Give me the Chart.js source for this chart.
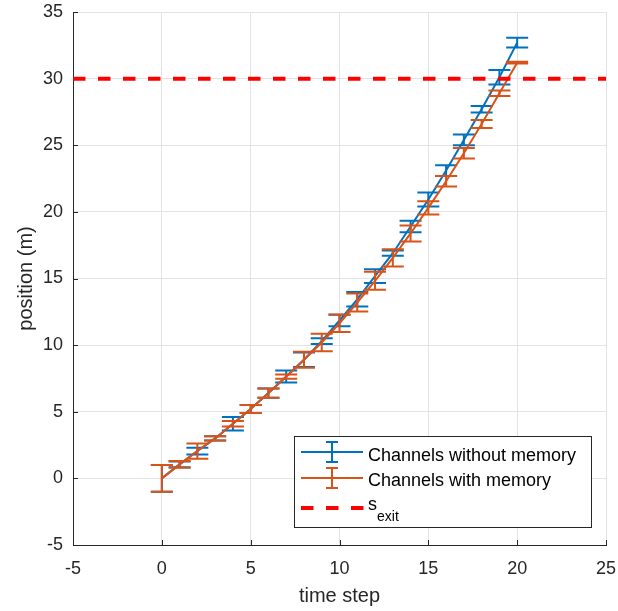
<!DOCTYPE html>
<html>
<head>
<meta charset="utf-8">
<script src="https://cdn.jsdelivr.net/npm/chart.js@4.4.1/dist/chart.umd.min.js"></script>
<style>
  html, body { margin: 0; padding: 0; background: #ffffff; }
  #wrap { width: 618px; height: 611px; position: relative; }
</style>
</head>
<body>
<div id="wrap"><canvas id="chart" width="618" height="611"></canvas></div>
<script>
// Time steps and mean position (m) with error half-widths for each channel model
const timeSteps = [0, 1, 2, 3, 4, 5, 6, 7, 8, 9, 10, 11, 12, 13, 14, 15, 16, 17, 18, 19, 20];
const noMemoryMean = [0, 1.05, 2.05, 3.0, 4.1, 5.2, 6.4, 7.65, 8.9, 10.3, 11.85, 13.44, 15.18, 16.9, 18.9, 20.93, 23.1, 25.4, 27.7, 30.1, 32.7];
const noMemoryErr  = [1, 0.22, 0.25, 0.16, 0.5, 0.3, 0.35, 0.45, 0.55, 0.22, 0.43, 0.54, 0.52, 0.2, 0.43, 0.53, 0.4, 0.4, 0.25, 0.55, 0.37];
const memoryMean   = [0, 1.05, 2.05, 3.0, 4.1, 5.2, 6.4, 7.63, 8.9, 10.2, 11.64, 13.2, 14.83, 16.55, 18.38, 20.3, 22.3, 24.4, 26.6, 28.9, 31.2];
const memoryErr    = [1, 0.25, 0.57, 0.16, 0.2, 0.3, 0.35, 0.16, 0.6, 0.66, 0.65, 0.68, 0.67, 0.65, 0.6, 0.5, 0.4, 0.4, 0.3, 0.2, 0.07];
const exitPosition = 30;
const xRange = [-5, 25];
const yRange = [-5, 35];
const seriesLabels = ['Channels without memory', 'Channels with memory'];

const BLUE = '#0072BD';
const ORANGE = '#D95319';
const RED = '#FF0000';
const TEXT = '#262626';
const FONT = '"Liberation Sans", Arial, Helvetica, sans-serif';

const toPoints = (xs, ys) => xs.map((x, i) => ({ x: x, y: ys[i] }));

// Vertical error bars with caps, drawn right after their own dataset
const errorBars = {
  id: 'errorBars',
  afterDatasetDraw(chart, args) {
    const ds = chart.data.datasets[args.index];
    if (!ds.errors) return;
    const { ctx, scales: { x, y } } = chart;
    const capHalf = 11;
    ctx.save();
    ctx.strokeStyle = ds.borderColor;
    ctx.lineWidth = 2;
    ds.data.forEach((p, i) => {
      const e = ds.errors[i];
      const px = x.getPixelForValue(p.x);
      const top = y.getPixelForValue(p.y + e);
      const bot = y.getPixelForValue(p.y - e);
      ctx.beginPath();
      ctx.moveTo(px, top); ctx.lineTo(px, bot);
      ctx.moveTo(px - capHalf, top); ctx.lineTo(px + capHalf, top);
      ctx.moveTo(px - capHalf, bot); ctx.lineTo(px + capHalf, bot);
      ctx.stroke();
    });
    ctx.restore();
  }
};

// Inward tick marks on the left and bottom axes
const innerTicks = {
  id: 'innerTicks',
  beforeDatasetsDraw(chart) {
    const { ctx, chartArea: a, scales: { x, y } } = chart;
    ctx.save();
    ctx.strokeStyle = TEXT;
    ctx.lineWidth = 1;
    ctx.beginPath();
    x.ticks.forEach(t => {
      const px = Math.round(x.getPixelForValue(t.value)) + 0.5;
      ctx.moveTo(px, a.bottom); ctx.lineTo(px, a.bottom - 5);
    });
    y.ticks.forEach(t => {
      const py = Math.round(y.getPixelForValue(t.value)) + 0.5;
      ctx.moveTo(a.left, py); ctx.lineTo(a.left + 5, py);
    });
    ctx.stroke();
    ctx.restore();
  }
};

// Boxed legend in the lower right corner
const boxLegend = {
  id: 'boxLegend',
  afterDraw(chart) {
    const { ctx } = chart;
    const box = { l: 294, t: 436, r: 592, b: 528 };
    ctx.save();
    ctx.fillStyle = '#ffffff';
    ctx.fillRect(box.l, box.t, box.r - box.l, box.b - box.t);
    ctx.strokeStyle = TEXT;
    ctx.lineWidth = 1;
    ctx.strokeRect(box.l + 0.5, box.t + 0.5, box.r - box.l - 1, box.b - box.t - 1);

    const x0 = 301, x1 = 363, xc = 332, textX = 368;
    const rows = [
      { color: BLUE, cy: 452, label: seriesLabels[0], base: 461 },
      { color: ORANGE, cy: 478, label: seriesLabels[1], base: 486 }
    ];
    ctx.lineWidth = 2;
    rows.forEach(r => {
      ctx.strokeStyle = r.color;
      ctx.beginPath();
      ctx.moveTo(x0, r.cy); ctx.lineTo(x1, r.cy);
      ctx.moveTo(xc, r.cy - 10); ctx.lineTo(xc, r.cy + 10);
      ctx.moveTo(xc - 6, r.cy - 10); ctx.lineTo(xc + 6, r.cy - 10);
      ctx.moveTo(xc - 6, r.cy + 10); ctx.lineTo(xc + 6, r.cy + 10);
      ctx.stroke();
      ctx.fillStyle = '#000000';
      ctx.font = '18px ' + FONT;
      ctx.textBaseline = 'alphabetic';
      ctx.textAlign = 'left';
      ctx.fillText(r.label, textX, r.base);
    });
    // dashed exit marker
    ctx.strokeStyle = RED;
    ctx.lineWidth = 4;
    ctx.setLineDash([12.5, 12.5]);
    ctx.beginPath();
    ctx.moveTo(x0, 508); ctx.lineTo(x1 + 1, 508);
    ctx.stroke();
    ctx.setLineDash([]);
    ctx.fillStyle = '#000000';
    ctx.font = '18px ' + FONT;
    ctx.fillText('s', textX, 510);
    const sw = ctx.measureText('s').width;
    ctx.font = '14px ' + FONT;
    ctx.fillText('exit', textX + sw, 521);
    ctx.restore();
  }
};

const tickFont = { family: FONT, size: 18 };
const titleFont = { family: FONT, size: 20 };

new Chart(document.getElementById('chart'), {
  type: 'line',
  data: {
    datasets: [
      {
        label: seriesLabels[0],
        data: toPoints(timeSteps, noMemoryMean),
        errors: noMemoryErr,
        borderColor: BLUE,
        borderWidth: 2,
        pointRadius: 0,
        tension: 0,
        order: 3
      },
      {
        label: seriesLabels[1],
        data: toPoints(timeSteps, memoryMean),
        errors: memoryErr,
        borderColor: ORANGE,
        borderWidth: 2,
        pointRadius: 0,
        tension: 0,
        order: 2
      },
      {
        label: 's_exit',
        data: toPoints(xRange, [exitPosition, exitPosition]),
        borderColor: RED,
        borderWidth: 4,
        borderDash: [12.5, 12.5],
        borderCapStyle: 'butt',
        pointRadius: 0,
        order: 1
      }
    ]
  },
  options: {
    responsive: false,
    animation: false,
    layout: { padding: { top: 12, right: 12, left: 0, bottom: 0 } },
    plugins: {
      legend: { display: false },
      tooltip: { enabled: false }
    },
    scales: {
      x: {
        type: 'linear',
        min: xRange[0],
        max: xRange[1],
        ticks: { stepSize: 5, color: TEXT, font: tickFont, padding: 13, maxRotation: 0 },
        grid: { color: '#e3e3e3', drawTicks: false, lineWidth: 1 },
        border: { display: true, color: TEXT, width: 1 },
        title: { display: true, text: 'time step', color: TEXT, font: titleFont, padding: { top: 0, bottom: 3 } },
        afterFit(scale) {
          scale.height = 66;
          scale.paddingLeft = 0;
          scale.paddingRight = 0;
        }
      },
      y: {
        type: 'linear',
        min: yRange[0],
        max: yRange[1],
        ticks: { stepSize: 5, color: TEXT, font: tickFont, padding: 10 },
        grid: { color: '#e3e3e3', drawTicks: false, lineWidth: 1 },
        border: { display: true, color: TEXT, width: 1 },
        title: { display: true, text: 'position (m)', color: TEXT, font: titleFont, padding: { top: 14, bottom: 0 } },
        afterFit(scale) {
          scale.width = 73;
          scale.paddingTop = 0;
          scale.paddingBottom = 0;
        }
      }
    }
  },
  plugins: [errorBars, innerTicks, boxLegend]
});
</script>
</body>
</html>
